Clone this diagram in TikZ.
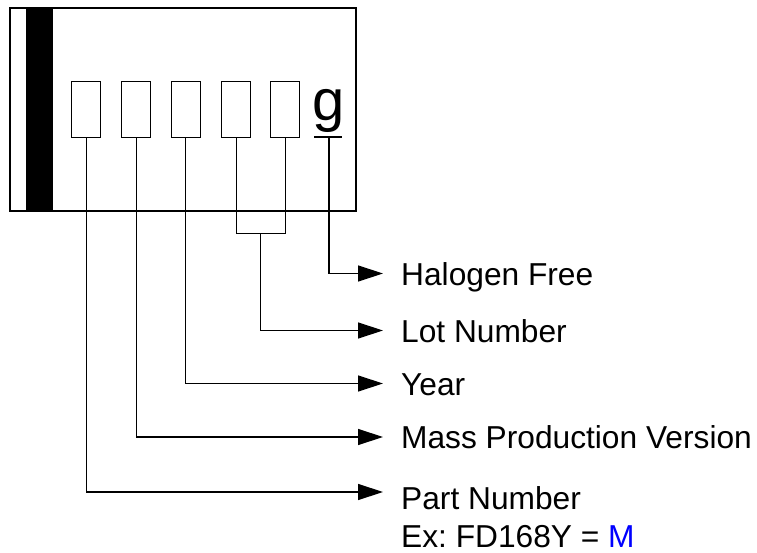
\documentclass[tikz,border=0pt]{standalone}
\usepackage{fontspec}
\setmainfont{Liberation Sans}
\usetikzlibrary{arrows.meta,calc}
\frenchspacing
\begin{document}
\begin{tikzpicture}[x=1pt,y=-1pt,
  digit/.style={draw,line width=1.3pt,minimum width=29pt,minimum height=56pt,inner sep=0pt,anchor=north west},
  lead/.style={line width=1.3pt},
  leadarrow/.style={line width=1.3pt,-{Triangle[length=25pt,width=16pt]}},
  lab/.style={anchor=base west,inner sep=0pt,font=\fontsize{31.7}{38}\selectfont}]
\useasboundingbox (0,0) rectangle (757,553);
% label outline
\node[draw,line width=1.6pt,minimum width=346pt,minimum height=203pt,inner sep=0pt,anchor=north west] (frame) at (9,7) {};
\fill (26,7) rectangle (52.7,210);
% character boxes
\node[digit] (b1) at (71,81) {};
\node[digit] (b2) at (121,81) {};
\node[digit] (b3) at (170.5,81) {};
\node[digit] (b4) at (221,81) {};
\node[digit] (b5) at (270,81) {};
\node[inner sep=0pt,anchor=base,font=\fontsize{58}{60}\selectfont] (g) at (328.5,121) {g};
\coordinate (gu) at (329,137);
\draw[lead] (314,137) -- (342,137);
% arrow ends
\coordinate (tHal) at (383,273.5);
\coordinate (tLot) at (383,330.5);
\coordinate (tYear) at (383,383.5);
\coordinate (tMass) at (383,437);
\coordinate (tPart) at (383,492);
\coordinate (jL) at (b4.south |- 0,233.5);
\coordinate (jR) at (b5.south |- 0,233.5);
\coordinate (jM) at ($(jL)!0.5!(jR)$);
% connectors
\draw[leadarrow] (gu) |- (tHal);
\draw[lead] (b4.south) -- (jL) -- (jR) -- (b5.south);
\draw[leadarrow] (jM) |- (tLot);
\draw[leadarrow] (b3.south) |- (tYear);
\draw[leadarrow] (b2.south) |- (tMass);
\draw[leadarrow] (b1.south) |- (tPart);
% labels
\node[lab] (hal) at (401,285) {Halogen Free};
\node[lab] (lot) at (401,342) {Lot Number};
\node[lab] (year) at (401,395) {Year};
\node[lab] (mass) at (401,448.5) {Mass Production Version};
\node[lab] (part) at (401,509) {Part Number};
\node[lab] (ex) at (401,547.5) {Ex: FD168Y = \textcolor{blue}{M}};
\end{tikzpicture}
\end{document}
